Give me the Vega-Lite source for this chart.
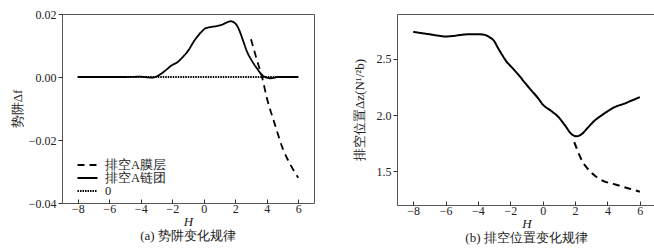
{
  "$schema": "https://vega.github.io/schema/vega-lite/v6.json",
  "autosize": {"type": "pad"},
  "padding": {"left": 10, "top": 7, "right": 4, "bottom": 2},
  "spacing": 37,
  "background": "white",
  "config": {
    "view": {"stroke": "#555", "strokeWidth": 1},
    "font": "Liberation Serif",
    "axis": {"grid": false, "domain": false, "tickColor": "#333", "labelColor": "#222", "titleColor": "#222", "labelFontSize": 12, "titleFontSize": 13, "titleFontWeight": "normal", "labelFont": "Liberation Serif", "titleFont": "Liberation Serif"},
    "axisX": {"tickSize": -4, "labelPadding": 4, "titleFontStyle": "italic", "titlePadding": 1},
    "axisY": {"tickSize": 4, "labelPadding": 2},
    "legend": {"labelFontSize": 12.5, "labelColor": "#222", "symbolType": "stroke", "symbolStrokeColor": "black", "symbolStrokeWidth": 2, "labelFont": "Liberation Serif"},
    "title": {"orient": "bottom", "fontSize": 13, "fontWeight": "normal", "color": "#222", "font": "Liberation Serif", "offset": 2}
  },
  "datasets": {
    "a": [
      {"H": -8, "v": 0, "s": "排空A链团"}, {"H": -7, "v": 0, "s": "排空A链团"}, {"H": -6, "v": 0, "s": "排空A链团"}, {"H": -5, "v": 0, "s": "排空A链团"},
      {"H": -4, "v": 0.0001, "s": "排空A链团"}, {"H": -3.6, "v": -0.0001, "s": "排空A链团"}, {"H": -3.3, "v": -0.0002, "s": "排空A链团"}, {"H": -3.1, "v": 0, "s": "排空A链团"},
      {"H": -2.9, "v": 0.0004, "s": "排空A链团"}, {"H": -2.5, "v": 0.0018, "s": "排空A链团"}, {"H": -2, "v": 0.0038, "s": "排空A链团"}, {"H": -1.67, "v": 0.0047, "s": "排空A链团"},
      {"H": -1.3, "v": 0.0065, "s": "排空A链团"}, {"H": -1, "v": 0.0083, "s": "排空A链团"}, {"H": -0.6, "v": 0.0115, "s": "排空A链团"}, {"H": -0.19, "v": 0.0141, "s": "排空A链团"},
      {"H": 0.13, "v": 0.0155, "s": "排空A链团"}, {"H": 0.5, "v": 0.0159, "s": "排空A链团"}, {"H": 0.87, "v": 0.0162, "s": "排空A链团"}, {"H": 1.2, "v": 0.0167, "s": "排空A链团"},
      {"H": 1.5, "v": 0.0174, "s": "排空A链团"}, {"H": 1.7, "v": 0.0177, "s": "排空A链团"}, {"H": 1.9, "v": 0.0174, "s": "排空A链团"}, {"H": 2.1, "v": 0.0164, "s": "排空A链团"},
      {"H": 2.3, "v": 0.0143, "s": "排空A链团"}, {"H": 2.5, "v": 0.0115, "s": "排空A链团"}, {"H": 2.77, "v": 0.0078, "s": "排空A链团"}, {"H": 3.0, "v": 0.0056, "s": "排空A链团"},
      {"H": 3.2, "v": 0.004, "s": "排空A链团"}, {"H": 3.4, "v": 0.0026, "s": "排空A链团"}, {"H": 3.6, "v": 0.0012, "s": "排空A链团"}, {"H": 3.82, "v": 0.0002, "s": "排空A链团"},
      {"H": 4.0, "v": -0.0002, "s": "排空A链团"}, {"H": 4.24, "v": -0.0004, "s": "排空A链团"}, {"H": 4.5, "v": -0.0002, "s": "排空A链团"}, {"H": 4.7, "v": 0, "s": "排空A链团"},
      {"H": 5, "v": 0, "s": "排空A链团"}, {"H": 6, "v": 0, "s": "排空A链团"},
      {"H": 3.0, "v": 0.012, "s": "排空A膜层"}, {"H": 3.35, "v": 0.0058, "s": "排空A膜层"}, {"H": 3.7, "v": 0, "s": "排空A膜层"}, {"H": 4.0, "v": -0.0065, "s": "排空A膜层"},
      {"H": 4.5, "v": -0.0148, "s": "排空A膜层"}, {"H": 5.0, "v": -0.0225, "s": "排空A膜层"}, {"H": 5.5, "v": -0.0278, "s": "排空A膜层"}, {"H": 6.0, "v": -0.032, "s": "排空A膜层"},
      {"H": -8, "v": 0, "s": "0"}, {"H": 6, "v": 0, "s": "0"}
    ],
    "b": [
      {"H": -8, "v": 2.741, "s": "排空A链团"}, {"H": -7.5, "v": 2.73, "s": "排空A链团"}, {"H": -7, "v": 2.72, "s": "排空A链团"}, {"H": -6.5, "v": 2.708, "s": "排空A链团"},
      {"H": -6, "v": 2.7, "s": "排空A链团"}, {"H": -5.5, "v": 2.705, "s": "排空A链团"}, {"H": -5, "v": 2.715, "s": "排空A链团"}, {"H": -4.5, "v": 2.72, "s": "排空A链团"},
      {"H": -4, "v": 2.72, "s": "排空A链团"}, {"H": -3.6, "v": 2.715, "s": "排空A链团"}, {"H": -3.3, "v": 2.695, "s": "排空A链团"}, {"H": -3, "v": 2.66, "s": "排空A链团"},
      {"H": -2.77, "v": 2.6, "s": "排空A链团"}, {"H": -2.5, "v": 2.535, "s": "排空A链团"}, {"H": -2.2, "v": 2.47, "s": "排空A链团"}, {"H": -1.94, "v": 2.43, "s": "排空A链团"},
      {"H": -1.5, "v": 2.36, "s": "排空A链团"}, {"H": -1.11, "v": 2.29, "s": "排空A链团"}, {"H": -0.7, "v": 2.22, "s": "排空A链团"}, {"H": -0.28, "v": 2.15, "s": "排空A链团"},
      {"H": 0, "v": 2.095, "s": "排空A链团"}, {"H": 0.5, "v": 2.04, "s": "排空A链团"}, {"H": 0.96, "v": 1.985, "s": "排空A链团"}, {"H": 1.37, "v": 1.91, "s": "排空A链团"},
      {"H": 1.79, "v": 1.83, "s": "排空A链团"}, {"H": 2.1, "v": 1.812, "s": "排空A链团"}, {"H": 2.4, "v": 1.83, "s": "排空A链团"}, {"H": 2.8, "v": 1.89, "s": "排空A链团"},
      {"H": 3.2, "v": 1.95, "s": "排空A链团"}, {"H": 3.66, "v": 2.0, "s": "排空A链团"}, {"H": 4.07, "v": 2.04, "s": "排空A链团"}, {"H": 4.5, "v": 2.075, "s": "排空A链团"},
      {"H": 5, "v": 2.1, "s": "排空A链团"}, {"H": 5.5, "v": 2.13, "s": "排空A链团"}, {"H": 6, "v": 2.16, "s": "排空A链团"},
      {"H": 1.95, "v": 1.76, "s": "排空A膜层"}, {"H": 2.41, "v": 1.6, "s": "排空A膜层"}, {"H": 3.03, "v": 1.485, "s": "排空A膜层"}, {"H": 3.66, "v": 1.42, "s": "排空A膜层"},
      {"H": 4.49, "v": 1.382, "s": "排空A膜层"}, {"H": 5.32, "v": 1.347, "s": "排空A膜层"}, {"H": 6.0, "v": 1.318, "s": "排空A膜层"}
    ]
  },
  "hconcat": [
    {
      "width": 252, "height": 189,
      "title": "(a) 势阱变化规律",
      "data": {"name": "a"},
      "mark": {"type": "line", "color": "black", "strokeWidth": 1.8, "interpolate": "monotone"},
      "encoding": {
        "x": {"field": "H", "type": "quantitative", "title": "H", "scale": {"domain": [-9, 7], "nice": false}, "axis": {"values": [-8, -6, -4, -2, 0, 2, 4, 6]}},
        "y": {"field": "v", "type": "quantitative", "title": "势阱Δf", "scale": {"domain": [-0.04, 0.02], "nice": false}, "axis": {"values": [-0.04, -0.02, 0, 0.02], "format": ".2f"}},
        "strokeDash": {"field": "s", "type": "nominal", "scale": {"domain": ["排空A膜层", "排空A链团", "0"], "range": [[7, 5], [1, 0], [1.5, 1]]},
          "legend": {"title": null, "orient": "none", "legendX": 14, "legendY": 145, "symbolSize": 400, "clipHeight": 12, "rowPadding": 0, "labelOffset": 6}},
        "strokeWidth": {"field": "s", "type": "nominal", "scale": {"domain": ["排空A膜层", "排空A链团", "0"], "range": [1.8, 1.8, 1.3]}, "legend": null}
      }
    },
    {
      "width": 259, "height": 191,
      "title": "(b) 排空位置变化规律",
      "data": {"name": "b"},
      "mark": {"type": "line", "color": "black", "strokeWidth": 2, "interpolate": "monotone"},
      "encoding": {
        "x": {"field": "H", "type": "quantitative", "title": "H", "scale": {"domain": [-9, 7], "nice": false}, "axis": {"values": [-8, -6, -4, -2, 0, 2, 4, 6]}},
        "y": {"field": "v", "type": "quantitative", "title": "排空位置Δz(N¹/²b)", "scale": {"domain": [1.2, 2.9], "nice": false}, "axis": {"values": [1.5, 2.0, 2.5], "format": ".1f", "titlePadding": 10}},
        "strokeDash": {"field": "s", "type": "nominal", "scale": {"domain": ["排空A膜层", "排空A链团"], "range": [[6, 5], [1, 0]]},
          "legend": {"title": null, "orient": "none", "legendX": 16, "legendY": 150, "symbolSize": 625, "clipHeight": 14, "rowPadding": 7, "labelOffset": 6, "symbolStrokeWidth": 2.2}}
      }
    }
  ]
}
